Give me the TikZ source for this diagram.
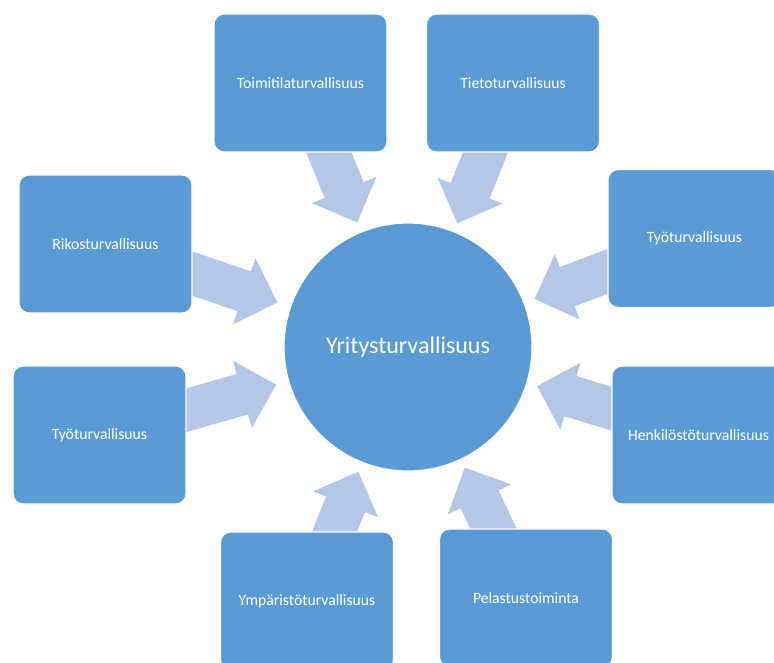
\documentclass[tikz,border=0pt]{standalone}
\usepackage{fontspec}
\setmainfont{Carlito}
\usetikzlibrary{calc,backgrounds}
\definecolor{boxblue}{HTML}{5B9BD5}
\definecolor{arrblue}{HTML}{B4C7E7}
\tikzset{
  sbox/.style={draw=white, line width=1.2pt, fill=boxblue, rounded corners=10pt,
    minimum width=173pt, minimum height=138pt, inner sep=0pt, text=white,
    font=\fontsize{15.7}{19}\selectfont},
  hub/.style={circle, draw=white, line width=1.2pt, fill=boxblue, minimum size=248pt,
    inner sep=0pt, text=white, font=\fontsize{24}{28}\selectfont},
  arrowfill/.style={fill=arrblue}
}
\newcommand{\blockarr}[3]{%
  \coordinate (T) at ($(c)!#2!(#1)$);
  \coordinate (H) at ($(c)!#3!(#1)$);
  \fill[arrowfill] (T) -- ($(H)!35pt!90:(#1)$) -- ($(H)!21pt!90:(#1)$)
    -- ($(#1)!21pt!-90:(H)$) -- ($(#1)!21pt!90:(H)$)
    -- ($(H)!21pt!-90:(#1)$) -- ($(H)!35pt!-90:(#1)$) -- cycle;
}
\begin{document}
\begin{tikzpicture}[x=1pt,y=1pt]
\useasboundingbox (0,0) rectangle (774,662);
\clip (0,0) rectangle (774,662);
\node[hub] (c) at (408,315) {Yritysturvallisuus};
\node[sbox] (toim) at (300.5,579) {Toimitilaturvallisuus};
\node[sbox] (tieto) at (513,579) {Tietoturvallisuus};
\node[sbox] (riko) at (105.5,418) {Rikosturvallisuus};
\node[sbox] (tyoL) at (99.5,227) {Työturvallisuus};
\node[sbox] (tyoR) at (694.5,423.5) {Työturvallisuus};
\node[sbox] (henk) at (698.5,227) {Henkilöstöturvallisuus};
\node[sbox] (ymp) at (307,61) {Ympäristöturvallisuus};
\node[sbox] (pel) at (526,64) {Pelastustoiminta};
\begin{scope}[on background layer]
\blockarr{toim}{134.5pt}{169.5pt}
\blockarr{tieto}{133.2pt}{168.2pt}
\blockarr{riko}{138pt}{173pt}
\blockarr{tyoL}{137.2pt}{172.2pt}
\blockarr{tyoR}{135.4pt}{170.4pt}
\blockarr{henk}{134.7pt}{169.7pt}
\blockarr{ymp}{134.2pt}{169.2pt}
\blockarr{pel}{133.3pt}{168.3pt}
\end{scope}
\end{tikzpicture}
\end{document}
